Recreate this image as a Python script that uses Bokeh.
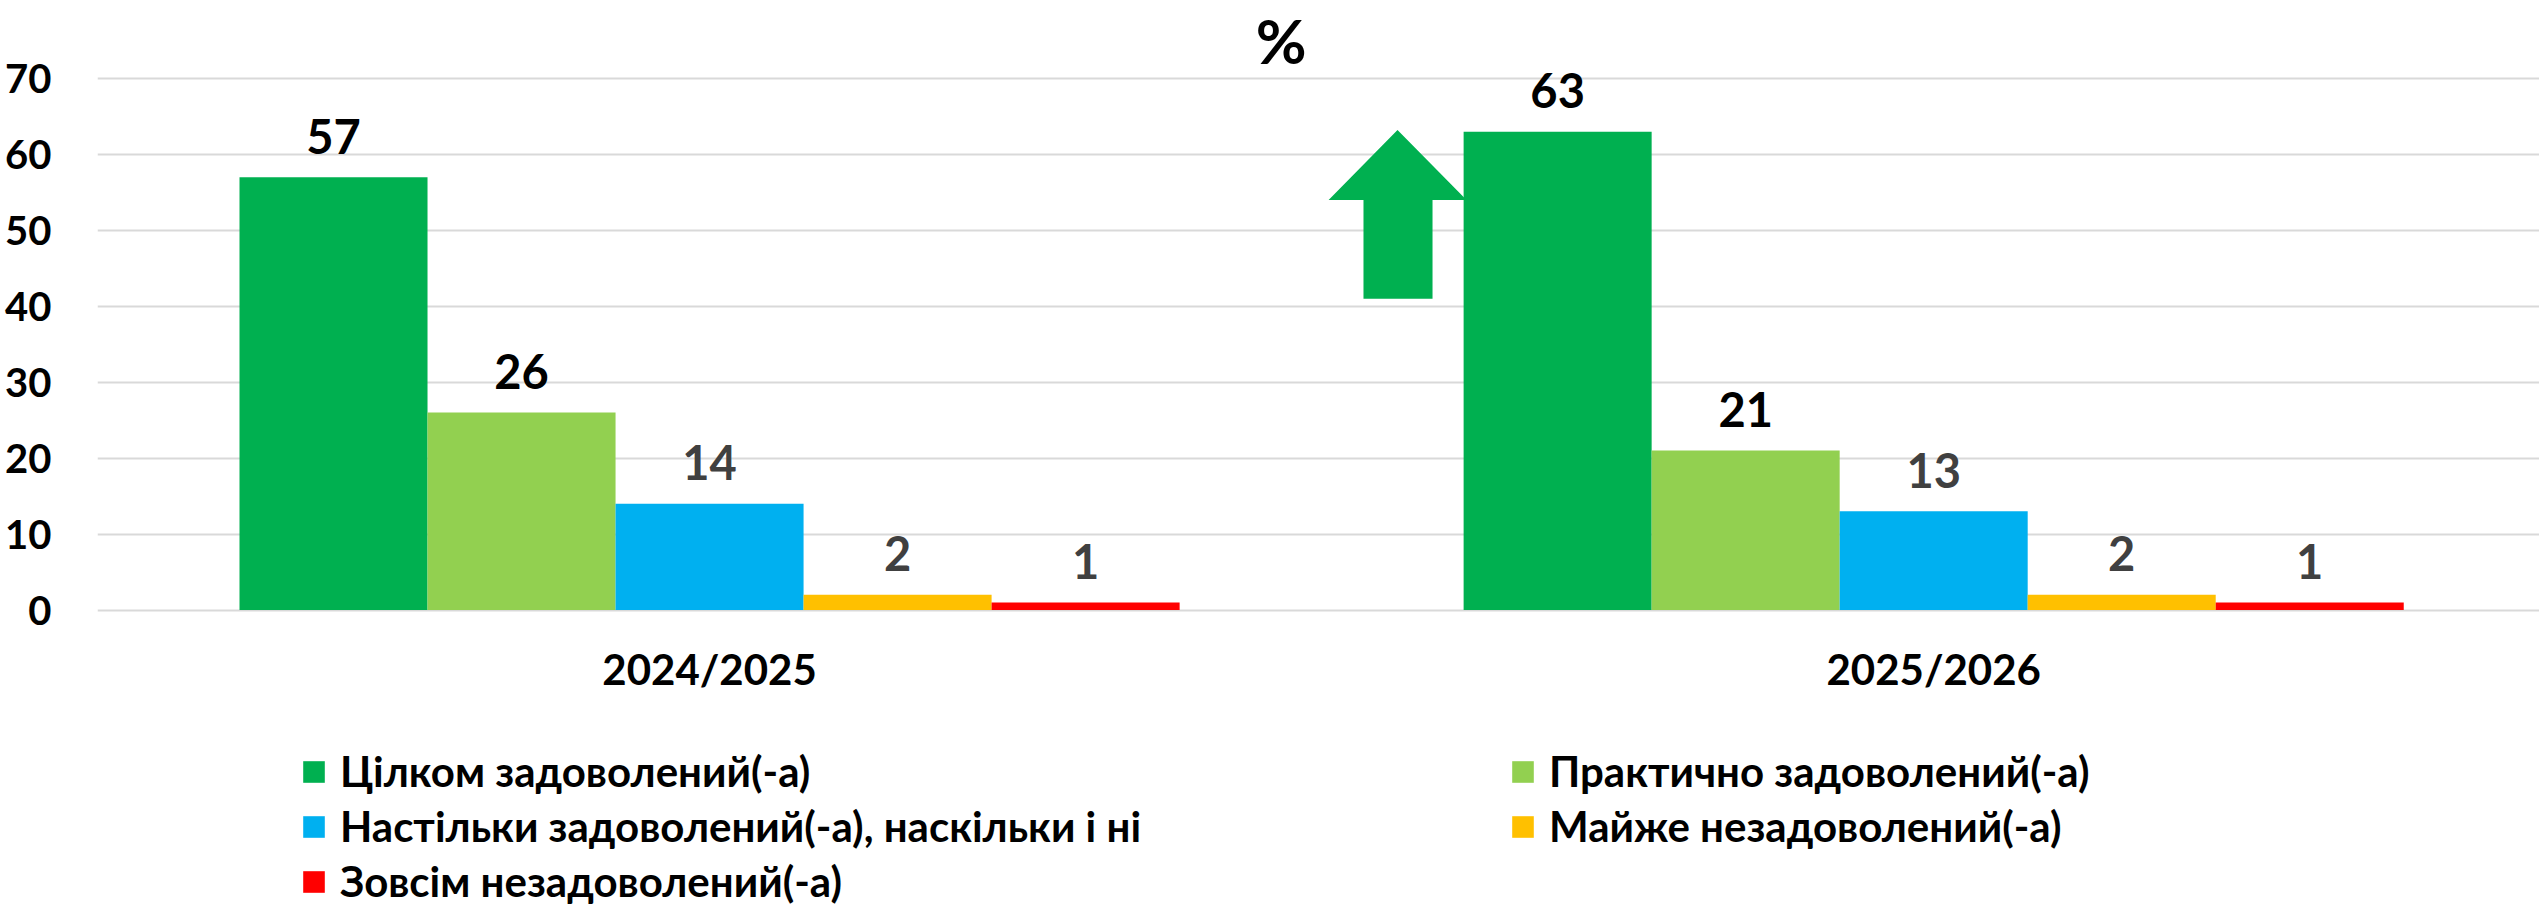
from bokeh.plotting import figure
from bokeh.models import (ColumnDataSource, Range1d, FixedTicker, Legend, LegendItem, Label)
from bokeh.core.properties import value
from bokeh.embed import file_html
from bokeh.resources import INLINE

# ---- data ----
categories = ["2024/2025", "2025/2026"]
series_names = [
    "Цілком задоволений(-а)",
    "Практично задоволений(-а)",
    "Настільки задоволений(-а), наскільки і ні",
    "Майже незадоволений(-а)",
    "Зовсім незадоволений(-а)",
]
fully_satisfied = [57, 63]
practically_satisfied = [26, 21]
neither = [14, 13]
almost_dissatisfied = [2, 2]
fully_dissatisfied = [1, 1]
series_values = [fully_satisfied, practically_satisfied, neither,
                 almost_dissatisfied, fully_dissatisfied]
series_colors = ["#00B050", "#92D050", "#00B0F0", "#FFC000", "#FF0000"]
label_colors = ["#000000", "#000000", "#404040", "#404040", "#404040"]
y_ticks = [0, 10, 20, 30, 40, 50, 60, 70]

# decorative up-arrow (data coordinates)
arrow_x = [1.0620, 1.1184, 1.0906, 1.0906, 1.0342, 1.0342, 1.0057]
arrow_y = [63.2, 54.0, 54.0, 41.0, 41.0, 54.0, 54.0]

FONT = "Lato"
W, H = 2539, 907
bar_w = 0.1536

p = figure(width=W, height=H, output_backend="svg", toolbar_location=None,
           x_range=Range1d(0, 1.9949), y_range=Range1d(-39.18, 80.27),
           min_border_left=97, min_border_right=0, min_border_top=0,
           min_border_bottom=0)
p.outline_line_color = None
p.background_fill_color = "white"
p.border_fill_color = "white"

# arrow under bars
p.patch(arrow_x, arrow_y, fill_color="#00B050", line_color=None)

renderers = []
for k, (name, vals, col, lcol) in enumerate(zip(series_names, series_values,
                                                series_colors, label_colors)):
    xs = [i + 0.5 + (k - 2) * bar_w for i in range(len(categories))]
    src = ColumnDataSource(dict(x=xs, top=vals, lab=[str(v) for v in vals]))
    r = p.vbar(x="x", top="top", width=bar_w, bottom=0, source=src,
               fill_color=col, line_color=None)
    renderers.append(r)
    p.text(x="x", y="top", text="lab", source=src, y_offset=-41,
           text_align="center", text_baseline="middle",
           text_font=value(FONT), text_font_style="bold",
           text_font_size="47px", text_color=lcol)

# percent sign
p.add_layout(Label(x=0.967, y=75.1, text="%", text_align="center",
                   text_baseline="middle", text_font=FONT,
                   text_font_style="bold", text_font_size="62px",
                   text_color="black"))

# axes
p.xaxis.fixed_location = 0
p.xaxis.ticker = FixedTicker(ticks=[i + 0.5 for i in range(len(categories))])
p.xaxis.major_label_overrides = {i + 0.5: c for i, c in enumerate(categories)}
p.xaxis.axis_line_color = None
p.xaxis.major_tick_line_color = None
p.xaxis.minor_tick_line_color = None
p.xaxis.major_label_text_font = FONT
p.xaxis.major_label_text_font_style = "bold"
p.xaxis.major_label_text_font_size = "42px"
p.xaxis.major_label_text_color = "black"
p.xaxis.major_label_standoff = 28
p.xgrid.visible = False

p.yaxis.ticker = FixedTicker(ticks=y_ticks)
p.yaxis.axis_line_color = None
p.yaxis.major_tick_line_color = None
p.yaxis.minor_tick_line_color = None
p.yaxis.major_label_text_font = FONT
p.yaxis.major_label_text_font_style = "bold"
p.yaxis.major_label_text_font_size = "40px"
p.yaxis.major_label_text_color = "black"
p.yaxis.major_label_standoff = 40
p.ygrid.ticker = FixedTicker(ticks=y_ticks)
p.ygrid.grid_line_color = "#D9D9D9"
p.ygrid.grid_line_width = 2

# legend (row-major, 2 columns)
items = [LegendItem(label=n, renderers=[r]) for n, r in zip(series_names, renderers)]
legend = Legend(items=items, orientation="horizontal", ncols=2,
                location=(203, 1), padding=0, margin=0, spacing=5,
                glyph_width=27, glyph_height=27, label_standoff=13,
                label_width=1164, label_height=50,
                label_text_font=FONT, label_text_font_style="bold",
                label_text_font_size="42px", label_text_color="black",
                border_line_color=None, background_fill_alpha=0)
p.add_layout(legend, "center")

open("out.html", "w").write(file_html(p, INLINE))
